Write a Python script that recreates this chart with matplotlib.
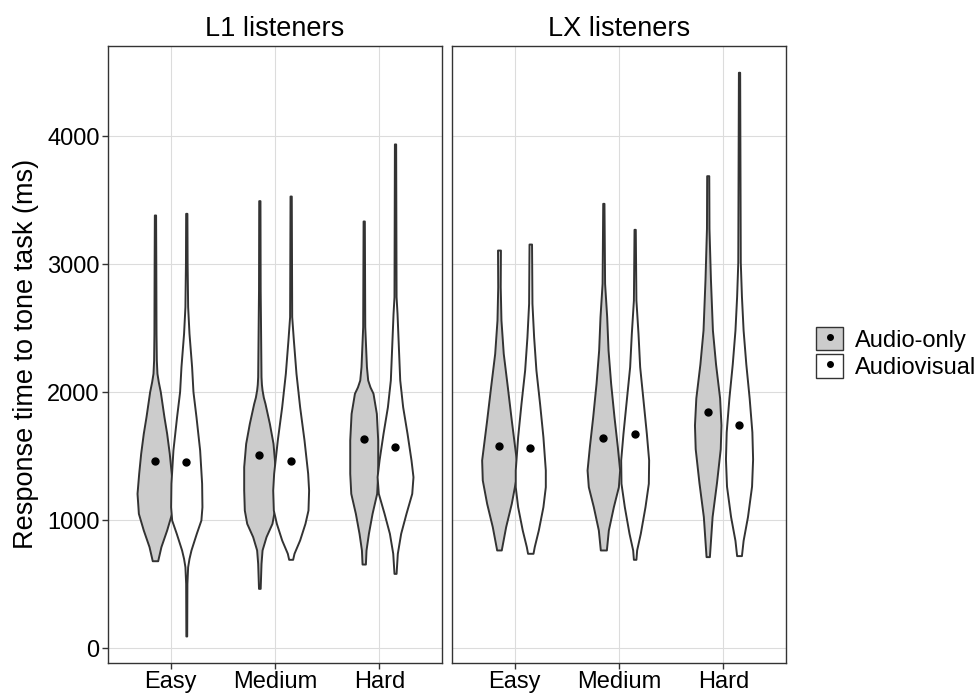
import matplotlib
matplotlib.use("Agg")
import matplotlib.pyplot as plt
from matplotlib.patches import Patch
from matplotlib.lines import Line2D

plt.rcParams['font.family'] = ['Liberation Sans', 'DejaVu Sans']

# ---------------- data ----------------
panels = ["L1 listeners", "LX listeners"]
difficulty = ["Easy", "Medium", "Hard"]
conditions = ["Audio-only", "Audiovisual"]

# violin outlines: response time (ms) and half width (x units)
l1_easy_ao_y = [3383, 3005, 2458, 2250, 2146, 2080, 2003, 1807, 1677, 1521, 1365, 1208, 1052, 922, 792, 682]
l1_easy_ao_w = [0.006, 0.008, 0.010, 0.013, 0.019, 0.032, 0.051, 0.086, 0.112, 0.137, 0.156, 0.172, 0.159, 0.112, 0.057, 0.026]
l1_easy_av_y = [3396, 3005, 2667, 2458, 2198, 2003, 1807, 1547, 1287, 1104, 1000, 896, 766, 700, 635, 505, 94]
l1_easy_av_w = [0.006, 0.008, 0.013, 0.026, 0.051, 0.064, 0.093, 0.128, 0.147, 0.150, 0.140, 0.096, 0.045, 0.026, 0.013, 0.006, 0.004]

l1_med_ao_y = [3495, 2797, 2120, 2060, 2016, 1960, 1911, 1755, 1599, 1417, 1234, 1078, 974, 870, 766, 661, 466]
l1_med_ao_w = [0.006, 0.008, 0.016, 0.020, 0.026, 0.038, 0.054, 0.096, 0.131, 0.150, 0.150, 0.144, 0.121, 0.064, 0.026, 0.016, 0.008]
l1_med_av_y = [3531, 2589, 2406, 2146, 1885, 1625, 1365, 1234, 1078, 974, 844, 740, 693]
l1_med_av_w = [0.006, 0.010, 0.026, 0.051, 0.086, 0.128, 0.163, 0.172, 0.166, 0.137, 0.086, 0.032, 0.019]

l1_hard_ao_y = [3336, 2510, 2198, 2094, 2040, 1990, 1833, 1625, 1365, 1208, 1052, 896, 766, 656]
l1_hard_ao_w = [0.006, 0.010, 0.026, 0.038, 0.060, 0.089, 0.121, 0.134, 0.134, 0.124, 0.080, 0.045, 0.022, 0.016]
l1_hard_av_y = [3938, 2745, 2615, 2354, 2094, 1885, 1677, 1469, 1338, 1208, 1052, 896, 740, 583]
l1_hard_av_w = [0.006, 0.010, 0.019, 0.032, 0.045, 0.073, 0.115, 0.153, 0.172, 0.160, 0.105, 0.054, 0.022, 0.010]

lx_easy_ao_y = [3109, 2823, 2563, 2302, 2042, 1781, 1573, 1469, 1313, 1130, 948, 766]
lx_easy_ao_w = [0.014, 0.012, 0.019, 0.041, 0.080, 0.118, 0.150, 0.166, 0.160, 0.118, 0.064, 0.022]
lx_easy_av_y = [3156, 2693, 2432, 2172, 1911, 1651, 1391, 1260, 1104, 922, 792, 740]
lx_easy_av_w = [0.012, 0.016, 0.032, 0.054, 0.089, 0.121, 0.144, 0.144, 0.121, 0.077, 0.038, 0.026]

lx_med_ao_y = [3474, 2849, 2589, 2328, 2068, 1807, 1573, 1391, 1260, 1104, 922, 766]
lx_med_ao_w = [0.006, 0.012, 0.032, 0.045, 0.070, 0.102, 0.134, 0.156, 0.144, 0.096, 0.048, 0.029]
lx_med_av_y = [3271, 2719, 2458, 2198, 1938, 1677, 1469, 1287, 1104, 896, 766, 693]
lx_med_av_w = [0.006, 0.012, 0.032, 0.048, 0.080, 0.112, 0.134, 0.131, 0.099, 0.054, 0.019, 0.012]

lx_hard_ao_y = [3690, 3279, 2882, 2484, 2219, 1954, 1742, 1557, 1292, 1027, 714]
lx_hard_ao_w = [0.010, 0.012, 0.026, 0.045, 0.075, 0.114, 0.127, 0.120, 0.084, 0.042, 0.016]
lx_hard_av_y = [4498, 3014, 2749, 2484, 2219, 1954, 1689, 1477, 1265, 1027, 841, 722]
lx_hard_av_w = [0.006, 0.012, 0.023, 0.039, 0.065, 0.097, 0.123, 0.130, 0.120, 0.081, 0.039, 0.023]

# means per difficulty
l1_mean_ao = [1461, 1508, 1635]
l1_mean_av = [1456, 1464, 1573]
lx_mean_ao = [1581, 1641, 1846]
lx_mean_av = [1560, 1669, 1742]

l1_violins = [((l1_easy_ao_y, l1_easy_ao_w), (l1_easy_av_y, l1_easy_av_w)),
              ((l1_med_ao_y, l1_med_ao_w), (l1_med_av_y, l1_med_av_w)),
              ((l1_hard_ao_y, l1_hard_ao_w), (l1_hard_av_y, l1_hard_av_w))]
lx_violins = [((lx_easy_ao_y, lx_easy_ao_w), (lx_easy_av_y, lx_easy_av_w)),
              ((lx_med_ao_y, lx_med_ao_w), (lx_med_av_y, lx_med_av_w)),
              ((lx_hard_ao_y, lx_hard_ao_w), (lx_hard_av_y, lx_hard_av_w))]

fills = ["#cccccc", "#ffffff"]
edge = "#333333"
dodge = [-0.15, 0.15]

W, H = 979, 693
fig = plt.figure(figsize=(W / 100, H / 100), dpi=100)

ax_l = 108 / W
ax_w = 334 / W
ax_b = 1 - 663 / H
ax_h = (663 - 45.5) / H
axes = [fig.add_axes([ax_l, ax_b, ax_w, ax_h]),
        fig.add_axes([452 / W, ax_b, ax_w, ax_h])]

for k, ax in enumerate(axes):
    violins = [l1_violins, lx_violins][k]
    means = [(l1_mean_ao, l1_mean_av), (lx_mean_ao, lx_mean_av)][k]
    for i, pair in enumerate(violins):
        for j, (ys, ws) in enumerate(pair):
            c = i + 1 + dodge[j]
            left = [c - w for w in ws]
            right = [c + w for w in ws]
            ax.fill_betweenx(ys, left, right, facecolor=fills[j], edgecolor=edge,
                             linewidth=1.4, joinstyle='round', zorder=2)
            ax.plot(c, means[j][i], 'o', color='black', markersize=5, zorder=3)

    ax.set_xlim(0.4, 3.6)
    ax.set_ylim(-117, 4707)
    ax.set_xticks([1, 2, 3])
    ax.set_xticklabels(difficulty, fontsize=17)
    ax.set_yticks([0, 1000, 2000, 3000, 4000])
    ax.grid(True, color="#dcdcdc", linewidth=0.8, zorder=0)
    ax.set_axisbelow(True)
    for s in ax.spines.values():
        s.set_color(edge)
        s.set_linewidth(1.0)
    ax.tick_params(colors=edge, labelcolor="black", length=4, width=1.0, labelsize=17, pad=2)
    ax.set_title(panels[k], fontsize=19.5, pad=7)

axes[1].tick_params(axis='y', left=False, labelleft=False)
axes[0].set_ylabel("Response time to tone task (ms)", fontsize=19.5, labelpad=6)

handles = []
for j in range(2):
    handles.append((Patch(facecolor=fills[j], edgecolor=edge, linewidth=1.0),
                    Line2D([], [], marker='o', color='black', linestyle='', markersize=4)))
fig.legend(handles, conditions, loc='center left', bbox_to_anchor=(816 / W, 1 - 353 / H),
           frameon=False, fontsize=17, handlelength=1.15, handleheight=1.15,
           handletextpad=0.5, labelspacing=0.12, borderpad=0, borderaxespad=0)

fig.savefig("out.png", dpi=100)
